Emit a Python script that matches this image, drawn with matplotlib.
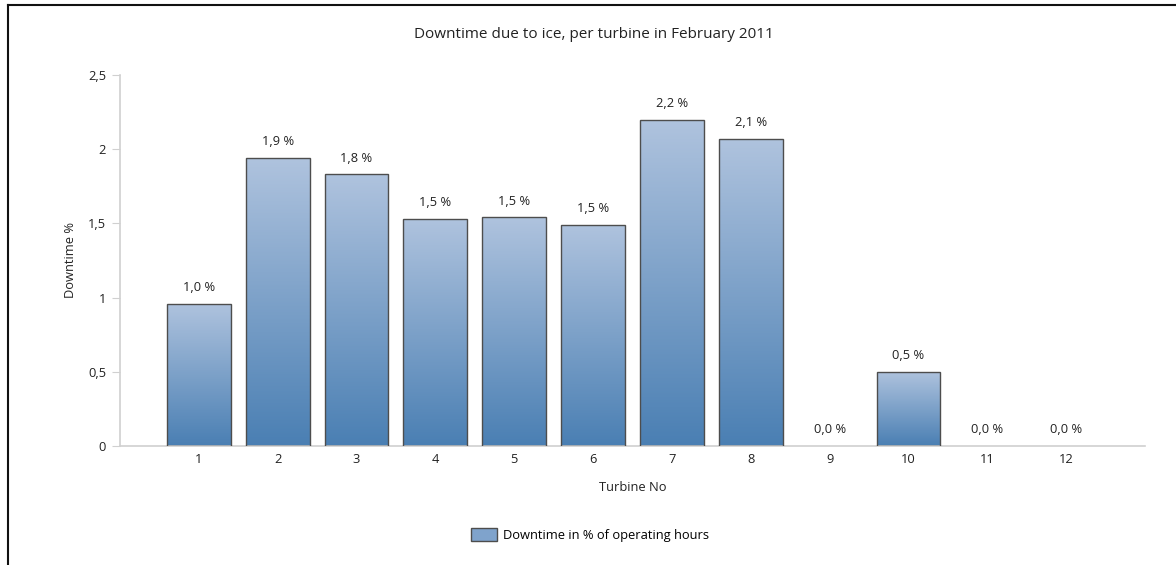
import numpy as np
import matplotlib
matplotlib.use("Agg")
import matplotlib.pyplot as plt
from matplotlib.lines import Line2D
from matplotlib.patches import Patch
from matplotlib.colors import LinearSegmentedColormap

plt.rcParams['font.family'] = ['Open Sans', 'DejaVu Sans']

turbines = [1, 2, 3, 4, 5, 6, 7, 8, 9, 10, 11, 12]
downtime = [0.96, 1.94, 1.83, 1.53, 1.54, 1.49, 2.20, 2.07, 0.0, 0.50, 0.0, 0.0]
yticks = [0, 0.5, 1, 1.5, 2, 2.5]

title = "Downtime due to ice, per turbine in February 2011"
xlabel = "Turbine No"
ylabel = "Downtime %"
legend_label = "Downtime in % of operating hours"

fs = 9.3
fig = plt.figure(figsize=(11.76, 5.65), dpi=100)
ax = fig.add_axes([120/1176, 1-446/565, (1145-120)/1176, (446-75)/565])

cmap = LinearSegmentedColormap.from_list("g", ["#4a7fb3", "#afc3de"])
grad = np.linspace(0, 1, 256).reshape(-1, 1)

bars = ax.bar(turbines, downtime, width=0.81, facecolor='none',
              edgecolor='#4d4d4d', linewidth=1.0, zorder=3)
for b, v in zip(bars, downtime):
    if v <= 0:
        b.set_linewidth(0)
        continue
    x0 = b.get_x(); w = b.get_width()
    im = ax.imshow(grad, cmap=cmap, aspect='auto', origin='lower',
                   extent=[x0, x0 + w, 0, v], zorder=2, interpolation='bilinear')
    im.set_clip_path(b)

for t, v in zip(turbines, downtime):
    ax.annotate(f"{v:.1f} %".replace('.', ','), (t, v), xytext=(0, 7),
                textcoords='offset points', ha='center', va='bottom',
                fontsize=fs, color='#222222')

ax.set_xlim(0, 13)
ax.set_ylim(0, 2.5)
ax.set_xticks(turbines)
ax.set_xticklabels([str(t) for t in turbines])
ax.set_yticks(yticks)
ax.set_yticklabels([("%g" % y).replace('.', ',') for y in yticks])
ax.tick_params(axis='x', length=0, pad=5, labelsize=fs, colors='#222222')
ax.tick_params(axis='y', length=6, color='#d0d0d0', pad=4, labelsize=fs, labelcolor='#222222')
for s in ['top', 'right']:
    ax.spines[s].set_visible(False)
for s in ['left', 'bottom']:
    ax.spines[s].set_color('#d0d0d0')
    ax.spines[s].set_linewidth(1.2)

ax.set_xlabel(xlabel, fontsize=fs, color='#222222', labelpad=11)
ax.set_ylabel(ylabel, fontsize=fs, color='#222222', labelpad=8)
fig.text(594/1176, 1-34/565, title, ha='center', va='center', fontsize=11, color='#222222')

handle = Patch(facecolor='#7fa3cc', edgecolor='#4d4d4d', linewidth=1.0)
fig.legend([handle], [legend_label], loc='center', bbox_to_anchor=(590/1176, 1-535/565),
           frameon=False, fontsize=fs, handlelength=2.0, handleheight=1.1, handletextpad=0.5)

# outer frame (top and left edges)
fig.add_artist(Line2D([8/1176, 1], [1-5/565, 1-5/565], transform=fig.transFigure,
                      color='#111111', linewidth=1.5))
fig.add_artist(Line2D([8/1176, 8/1176], [0, 1-5/565], transform=fig.transFigure,
                      color='#111111', linewidth=1.5))

fig.savefig("out.png", dpi=100)
